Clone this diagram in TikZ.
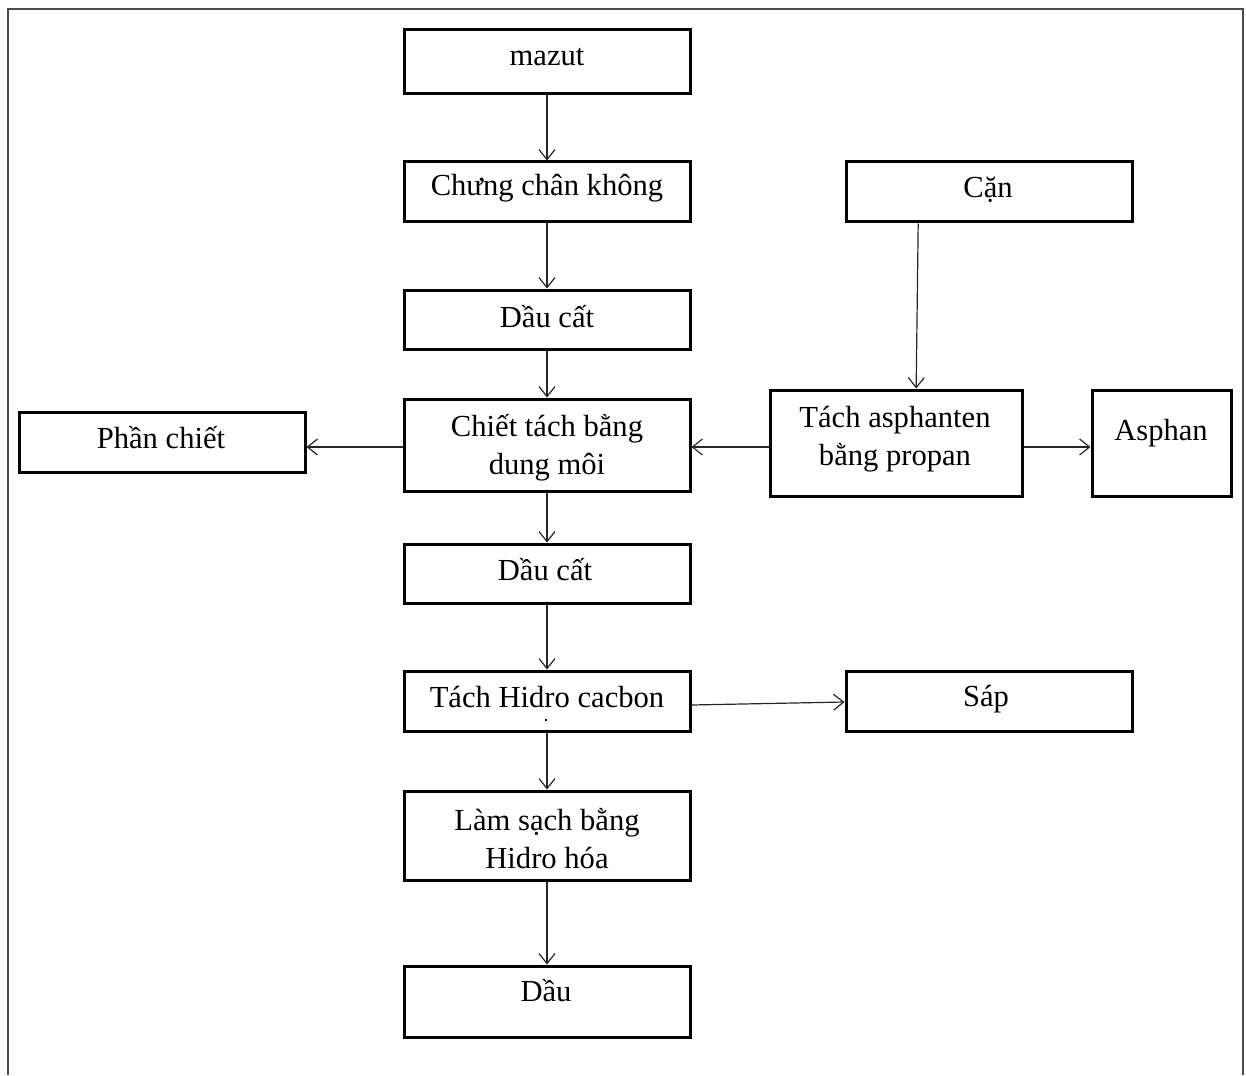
\documentclass[tikz,border=0pt]{standalone}
\usepackage{fontspec}
\setmainfont{Liberation Serif}
\usetikzlibrary{arrows.meta,calc}
\begin{document}
\begin{tikzpicture}[x=0.5pt,y=-0.5pt,
  box/.style={draw=black,line width=1.5pt,rectangle,inner sep=0pt},
  lbl/.style={font=\fontsize{15.3}{19}\selectfont,anchor=base,align=center,inner sep=0pt},
  arr/.style={draw=black!85,line width=0.6pt,-{Straight Barb[length=5pt,width=8pt]}},
  frame/.style={draw=black!70,line width=0.8pt}]
\useasboundingbox (0,0) rectangle (1246,1075);
\draw[frame] (8,1075) -- (8,9) -- (1243,9) -- (1243,1075);
% boxes
\node[box,minimum width=143pt,minimum height=32pt] (mazut) at (547,62) {};
\node[box,minimum width=143pt,minimum height=30pt] (chung) at (547,192) {};
\node[box,minimum width=143pt,minimum height=29.5pt] (dau1) at (547,319.5) {};
\node[box,minimum width=143pt,minimum height=46pt] (chiet) at (547,445) {};
\node[box,minimum width=143pt,minimum height=30pt] (phan) at (162,442) {};
\node[box,minimum width=143pt,minimum height=30pt] (can) at (989,192) {};
\node[box,minimum width=126pt,minimum height=53pt] (tach) at (896,443) {};
\node[box,minimum width=69.5pt,minimum height=53pt] (asphan) at (1161.5,443) {};
\node[box,minimum width=143pt,minimum height=29.5pt] (dau2) at (547,573.5) {};
\node[box,minimum width=143pt,minimum height=30pt] (hidro) at (547,701) {};
\node[box,minimum width=143pt,minimum height=30pt] (sap) at (989,701) {};
\node[box,minimum width=143pt,minimum height=44.5pt] (lam) at (547,835.5) {};
\node[box,minimum width=143pt,minimum height=35.5pt] (dau3) at (547,1001.5) {};
% labels (multi-line labels are placed by their last baseline)
\node[lbl] (tmazut) at (547,66) {mazut};
\node[lbl] (tchung) at (547,196) {Chưng chân không};
\node[lbl] (tdau1) at (547,327) {Dầu cất};
\node[lbl] (tchiet) at (547,474) {Chiết tách bằng\\dung môi};
\node[lbl] (tphan) at (161,448) {Phần chiết};
\node[lbl] (tcan) at (988,198) {Cặn};
\node[lbl] (ttach) at (895,465) {Tách asphanten\\bằng propan};
\node[lbl] (tasphan) at (1161,440) {Asphan};
\node[lbl] (tdau2) at (545,580) {Dầu cất};
\node[lbl] (thidro) at (547,707) {Tách Hidro cacbon};
\node[lbl] (tsap) at (986,706) {Sáp};
\node[lbl] (tlam) at (547,868) {Làm sạch bằng\\Hidro hóa};
\node[lbl] (tdau3) at (546,1001) {Dầu};
\fill (545,719) rectangle (547,721);
% connectors
\draw[arr] (mazut.south) -- (chung.north);
\draw[arr] (chung) -- (dau1);
\draw[arr] (dau1) -- (chiet);
\draw[arr] ([yshift=-1pt]chiet.west) -- ([yshift=-1pt]chiet.west -| phan.east);
\draw[arr] ([yshift=-2pt]tach.west) -- ([yshift=-2pt]tach.west -| chiet.east);
\draw[arr] ([yshift=-2pt]tach.east) -- ([yshift=-2pt]tach.east -| asphan.west);
\draw[arr] ($(can.south west)!0.255!(can.south east)$) -- ($(tach.north west)!0.579!(tach.north east)$);
\draw[arr] (chiet) -- (dau2);
\draw[arr] (dau2) -- (hidro);
\draw[arr] ([yshift=-2pt]hidro.east) -- ([yshift=-0.5pt]sap.west);
\draw[arr] (hidro) -- (lam);
\draw[arr] (lam) -- (dau3);
\end{tikzpicture}
\end{document}
